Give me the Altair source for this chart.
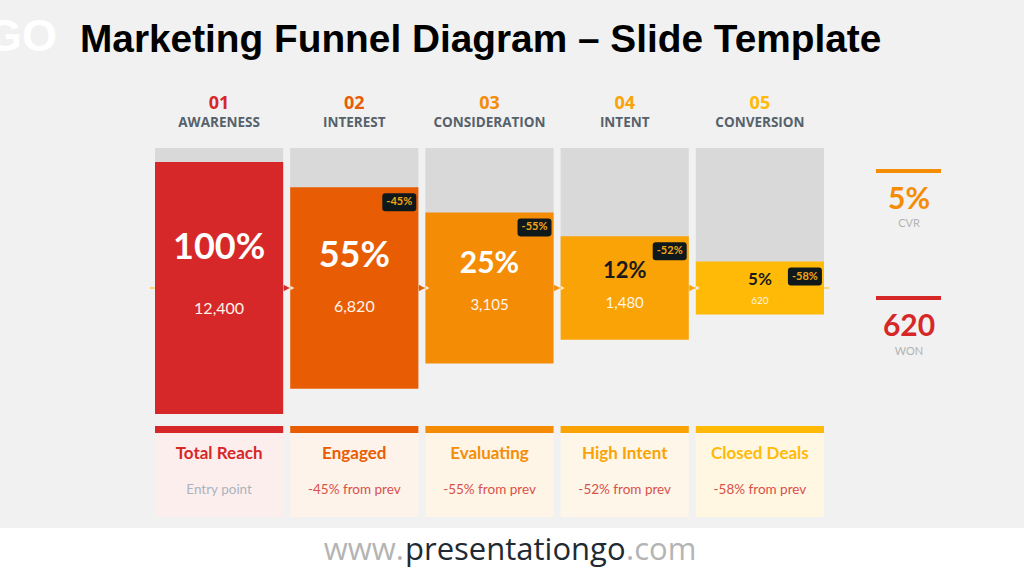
import altair as alt
import pandas as pd

# ---------------- data ----------------
stages = ["01", "02", "03", "04", "05"]
stage_names = ["AWARENESS", "INTEREST", "CONSIDERATION", "INTENT", "CONVERSION"]
pct = [100, 55, 25, 12, 5]
counts = [12400, 6820, 3105, 1480, 620]
drops = [None, -45, -55, -52, -58]
card_titles = ["Total Reach", "Engaged", "Evaluating", "High Intent", "Closed Deals"]
card_subs = ["Entry point", "-45% from prev", "-55% from prev", "-52% from prev", "-58% from prev"]
funnel_extent = [1.0, 0.80, 0.60, 0.41, 0.21]   # relative half-height of each funnel block
kpi_values = ["5%", "620"]
kpi_labels = ["CVR", "WON"]

# ---------------- styles ----------------
palette = ["#d62828", "#e85d04", "#f48c06", "#faa307", "#ffba08"]
tints = ["#fdeeee", "#fef3ea", "#fef5e6", "#fef6e8", "#fff7e2"]
pct_sizes = [36, 36, 30, 22, 17]
count_sizes = [16, 16, 15, 15, 10]
BG = "#f1f1f1"
BODY = "Lato"
HEAD = "Open Sans"

df = pd.DataFrame({
    "stage": stages,
    "name": stage_names,
    "pct": pct,
    "count": counts,
    "drop": drops,
    "title": card_titles,
    "sub": card_subs,
    "extent": funnel_extent,
    "idx": list(range(len(stages))),
})
df["pct_label"] = [f"{p}%" for p in pct]
df["count_label"] = [f"{c:,}" for c in counts]
df["drop_label"] = [("" if d is None else f"{d}%") for d in drops]
df["pct_size"] = pct_sizes
df["count_size"] = count_sizes

one = pd.DataFrame({"a": [0]})

X = alt.X("stage:N", scale=alt.Scale(type="band", domain=stages, range=[155, 824],
                                       paddingInner=0.052, paddingOuter=0), axis=None)


def Y(field):
    return alt.Y(field, type="quantitative",
                 scale=alt.Scale(domain=[-1, 1], range=[414, 162]), axis=None)


stage_color = alt.Color("stage:N", scale=alt.Scale(domain=stages, range=palette), legend=None)
tint_color = alt.Color("stage:N", scale=alt.Scale(domain=stages, range=tints), legend=None)

base = alt.Chart(df).transform_calculate(
    top="datum.extent",
    bottom="-datum.extent",
    pct_y="0.32*datum.extent",
    count_y="-(0.086+0.081*datum.extent)",
)

# footer band
footer_band = alt.Chart(one).mark_rect(color="white").encode(
    x=alt.value(0), x2=alt.value(1024), y=alt.value(528), y2=alt.value(576))

# grey tracks
tracks = alt.Chart(df).mark_rect(color="#d9d9d9").encode(
    x=X, y=alt.value(148), y2=alt.value(288))

# center guide line
guide = alt.Chart(one).mark_rule(color="#ffb703", strokeWidth=1).encode(
    x=alt.value(150), x2=alt.value(829), y=alt.value(288))

# funnel blocks
blocks = base.mark_rect().encode(x=X, y=Y("top"), y2=alt.Y2("bottom"), color=stage_color)

# connectors
arrows = base.transform_filter("datum.idx < 4").mark_point(
    shape="triangle-right", filled=True, size=45, opacity=1, strokeWidth=0, xOffset=67.5
).encode(x=X, y=alt.value(288), color=stage_color)
notches = base.transform_filter("datum.idx > 0").mark_point(
    shape="triangle-right", filled=True, size=22, opacity=1, strokeWidth=0, xOffset=-62,
    color="#f6e8d8"
).encode(x=X, y=alt.value(288))

# labels inside blocks
pct_text = base.mark_text(font=BODY, fontWeight="bold", baseline="middle", align="center").encode(
    x=X, y=Y("pct_y"), text="pct_label:N",
    size=alt.Size("pct_size:Q", scale=None, legend=None),
    color=alt.condition("datum.idx < 3", alt.value("white"), alt.value("#1a1a1a")),
)
count_text = base.mark_text(font=BODY, baseline="middle", align="center", color="#fff4ea").encode(
    x=X, y=Y("count_y"), text="count_label:N",
    size=alt.Size("count_size:Q", scale=None, legend=None),
)

# drop badges
badge_path = ("M -0.82 -0.53 L 0.82 -0.53 Q 1 -0.53 1 -0.35 L 1 0.35 Q 1 0.53 0.82 0.53 "
              "L -0.82 0.53 Q -1 0.53 -1 0.35 L -1 -0.35 Q -1 -0.53 -0.82 -0.53 Z")
badges = base.transform_filter("datum.idx > 0").mark_point(
    shape=badge_path, filled=True, size=1156, opacity=1, strokeWidth=0,
    color="#0f191c", xOffset=45, yOffset=15
).encode(x=X, y=Y("top"))
badge_text = base.transform_filter("datum.idx > 0").mark_text(
    font=BODY, fontWeight="bold", fontSize=11, color="#f2a516", baseline="middle",
    align="center", xOffset=45, yOffset=15
).encode(x=X, y=Y("top"), text="drop_label:N")

# headers
head_num = alt.Chart(df).mark_text(font=HEAD, fontWeight="bold", fontSize=18, baseline="middle").encode(
    x=X, y=alt.value(104), text="stage:N", color=stage_color)
head_name = alt.Chart(df).mark_text(font=HEAD, fontWeight="bold", fontSize=13.5, baseline="middle",
                                    color="#56616b").encode(
    x=X, y=alt.value(123), text="name:N")

# cards
card_strip = alt.Chart(df).mark_rect().encode(
    x=X, y=alt.value(426), y2=alt.value(433), color=stage_color)
card_bg = alt.Chart(df).mark_rect().encode(
    x=X, y=alt.value(433), y2=alt.value(517), color=tint_color)
card_title = alt.Chart(df).mark_text(font=BODY, fontWeight="bold", fontSize=17, baseline="middle").encode(
    x=X, y=alt.value(454), text="title:N", color=stage_color)
card_sub = alt.Chart(df).mark_text(font=BODY, fontSize=13.5, baseline="middle").encode(
    x=X, y=alt.value(490), text="sub:N",
    color=alt.condition("datum.idx == 0", alt.value("#aab4bd"), alt.value("#d9504a")))

# KPI side panel
kpi1_bar = alt.Chart(one).mark_rect(color="#f48c06").encode(
    x=alt.value(876), x2=alt.value(941), y=alt.value(169), y2=alt.value(173))
kpi2_bar = alt.Chart(one).mark_rect(color="#d62828").encode(
    x=alt.value(876), x2=alt.value(941), y=alt.value(296), y2=alt.value(300))
kpi1_val = alt.Chart(one).mark_text(text=kpi_values[0], font=BODY, fontWeight="bold", fontSize=30,
                                    color="#f48c06", baseline="middle").encode(
    x=alt.value(909), y=alt.value(200))
kpi1_lab = alt.Chart(one).mark_text(text=kpi_labels[0], font=BODY, fontSize=11,
                                    color="#b3b3b3", baseline="middle").encode(
    x=alt.value(909), y=alt.value(224))
kpi2_val = alt.Chart(one).mark_text(text=kpi_values[1], font=BODY, fontWeight="bold", fontSize=30,
                                    color="#d62828", baseline="middle").encode(
    x=alt.value(909), y=alt.value(327))
kpi2_lab = alt.Chart(one).mark_text(text=kpi_labels[1], font=BODY, fontSize=11,
                                    color="#b3b3b3", baseline="middle").encode(
    x=alt.value(909), y=alt.value(352))

# title, logo, footer
title = alt.Chart(one).mark_text(text="Marketing Funnel Diagram – Slide Template",
                                 font="Liberation Sans", fontWeight="bold", fontSize=38.8,
                                 color="black", align="left", baseline="alphabetic").encode(
    x=alt.value(80), y=alt.value(52))
logo = alt.Chart(one).mark_text(text="GO", font="Liberation Sans", fontWeight="bold", fontSize=45,
                                color="white", align="right", baseline="alphabetic").encode(
    x=alt.value(57), y=alt.value(51))
f1 = alt.Chart(one).mark_text(text="www.", font=HEAD, fontSize=31, color="#b4b4b4",
                              align="right", baseline="middle").encode(
    x=alt.value(404), y=alt.value(551))
f2 = alt.Chart(one).mark_text(text="presentationgo", font=HEAD, fontSize=31, color="#1f2a33",
                              align="left", baseline="middle").encode(
    x=alt.value(405), y=alt.value(551))
f3 = alt.Chart(one).mark_text(text=".com", font=HEAD, fontSize=31, color="#b4b4b4",
                              align="left", baseline="middle").encode(
    x=alt.value(626), y=alt.value(551))

chart = alt.layer(
    footer_band, tracks, guide, blocks, arrows, notches, pct_text, count_text, badges, badge_text,
    head_num, head_name, card_strip, card_bg, card_title, card_sub,
    kpi1_bar, kpi2_bar, kpi1_val, kpi1_lab, kpi2_val, kpi2_lab,
    title, logo, f1, f2, f3,
).resolve_scale(color="independent").properties(
    width=1024, height=576, autosize=alt.AutoSizeParams(type="none"), padding=0,
    background=BG,
).configure_view(stroke=None)

chart.save("out.html", embed_options={"renderer": "svg", "actions": False})
